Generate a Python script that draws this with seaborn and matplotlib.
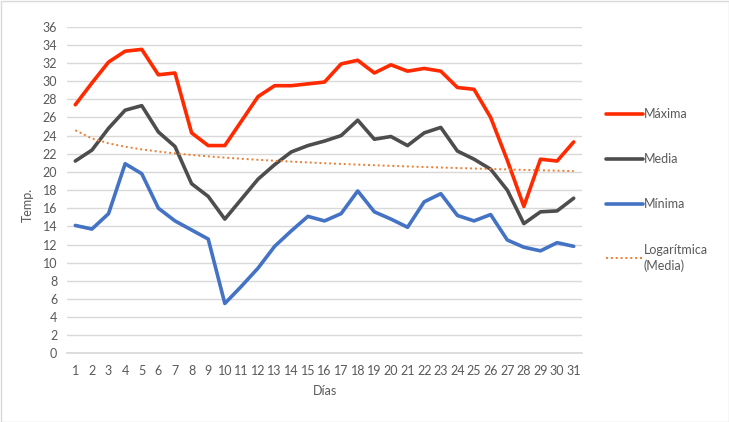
import numpy as np
import pandas as pd
import matplotlib
matplotlib.use("Agg")
import matplotlib.pyplot as plt
import seaborn as sns
from matplotlib.patches import Rectangle
from matplotlib.lines import Line2D

dias = list(range(1, 32))
maxima = [27.4, 29.8, 32.1, 33.3, 33.5, 30.7, 30.9, 24.3, 22.9, 22.9,
          25.6, 28.3, 29.5, 29.5, 29.7, 29.9, 31.9, 32.3, 30.9, 31.8,
          31.1, 31.4, 31.1, 29.3, 29.1, 26.0, 21.3, 16.2, 21.4, 21.2, 23.3]
media = [21.2, 22.4, 24.8, 26.8, 27.3, 24.4, 22.8, 18.7, 17.3, 14.8,
         17.0, 19.2, 20.8, 22.2, 22.9, 23.4, 24.0, 25.7, 23.6, 23.9,
         22.9, 24.3, 24.9, 22.3, 21.4, 20.3, 18.0, 14.3, 15.6, 15.7, 17.1]
minima = [14.1, 13.7, 15.4, 20.9, 19.8, 16.0, 14.6, 13.6, 12.6, 5.5,
          7.4, 9.4, 11.8, 13.5, 15.1, 14.6, 15.4, 17.9, 15.6, 14.8,
          13.9, 16.7, 17.6, 15.2, 14.6, 15.3, 12.5, 11.7, 11.3, 12.2, 11.8]
series_names = ["Máxima", "Media", "Mínima"]
colors = {"Máxima": "#FF2A00", "Media": "#4D4D4D", "Mínima": "#4472C4"}
trend_label = "Logarítmica\n(Media)"

df = pd.DataFrame({
    "Días": dias * 3,
    "Temp.": maxima + media + minima,
    "Serie": [series_names[0]] * 31 + [series_names[1]] * 31 + [series_names[2]] * 31,
})

# logarithmic trendline fitted on Media
b, a = np.polyfit(np.log(dias), media, 1)
trend = a + b * np.log(np.array(dias))
tdf = pd.DataFrame({"Días": dias, "Temp.": trend})

sns.set_theme(style="white")
plt.rcParams["font.family"] = ["Lato", "DejaVu Sans"]
txt = "#595959"

fig = plt.figure(figsize=(7.29, 4.22), dpi=100)
ax = fig.add_axes([67 / 729, 1 - 353.4 / 422, (582 - 67) / 729, (353.4 - 26.7) / 422])

sns.lineplot(data=df, x="Días", y="Temp.", hue="Serie", palette=colors,
             linewidth=2.6, ax=ax, legend=False)
sns.lineplot(data=tdf, x="Días", y="Temp.", color="#ED7D31", linewidth=1.4,
             linestyle=(0, (1, 1.5)), ax=ax, legend=False)

ax.set_xlim(0.5, 31.5)
ax.set_ylim(0, 36)
ax.set_yticks(range(0, 37, 2))
ax.set_xticks(dias)
ax.grid(axis="y", color="#D9D9D9", linewidth=1)
ax.set_axisbelow(True)
for s in ["top", "right", "left"]:
    ax.spines[s].set_visible(False)
ax.spines["bottom"].set_color("#D9D9D9")
ax.tick_params(axis="both", length=0, colors=txt, labelsize=9)
ax.tick_params(axis="y", pad=7)
ax.tick_params(axis="x", pad=8)
ax.set_xlabel("Días", color=txt, fontsize=9, labelpad=6)
ax.set_ylabel("Temp.", color=txt, fontsize=9)
ax.yaxis.set_label_coords((34 - 67) / 515, (353.4 - 205) / 326.7)

handles = [Line2D([], [], color=colors[n], linewidth=2.6) for n in series_names]
handles.append(Line2D([], [], color="#ED7D31", linewidth=1.4, linestyle=(0, (1, 1.5))))
leg = fig.legend(handles, series_names + [trend_label], loc="upper left",
                 bbox_to_anchor=(595 / 729, 1 - 97 / 422), frameon=False,
                 fontsize=9, handlelength=2.9, handletextpad=0.1,
                 labelspacing=2.65, labelcolor=txt)
for t in leg.get_texts():
    t.set_linespacing(1.35)

fig.patches.append(Rectangle((0.5 / 729, 0.5 / 422), 728 / 729, 421 / 422,
                             transform=fig.transFigure, fill=False,
                             edgecolor="#D9D9D9", linewidth=1))

fig.savefig("out.png", dpi=100)
